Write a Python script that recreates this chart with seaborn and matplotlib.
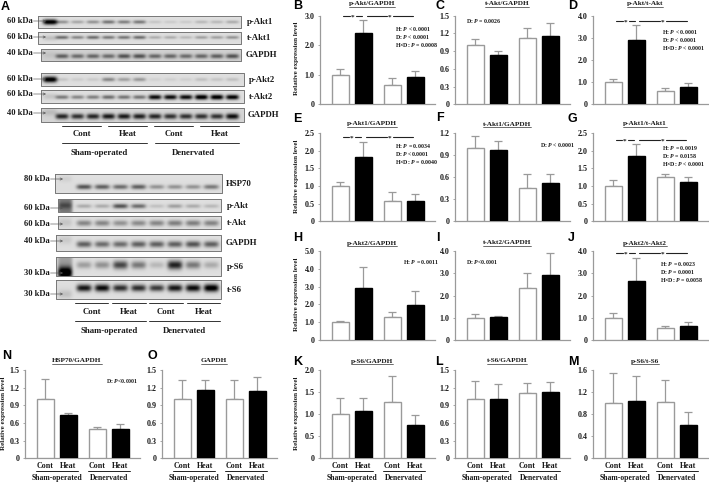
import numpy as np
import pandas as pd
import matplotlib
matplotlib.use('Agg')
import matplotlib.pyplot as plt
import seaborn as sns

sns.set_theme(style='white')
plt.rcParams['font.family'] = ['Liberation Serif', 'DejaVu Serif']
plt.rcParams['font.weight'] = 'bold'
plt.rcParams['mathtext.fontset'] = 'custom'
plt.rcParams['mathtext.rm'] = 'Liberation Serif:bold'
plt.rcParams['mathtext.it'] = 'Liberation Serif:italic:bold'
plt.rcParams['mathtext.bf'] = 'Liberation Serif:bold'

# Bar data: mean and top of the error bar, order Sham Cont, Sham Heat, Den Cont, Den Heat
groups = ['Cont', 'Heat', 'Cont', 'Heat']
b_vals = [1.0, 2.4, 0.66, 0.93]
b_tops = [1.2, 2.85, 0.88, 1.14]
c_vals = [1.0, 0.83, 1.12, 1.16]
c_tops = [1.1, 0.9, 1.29, 1.37]
d_vals = [1.0, 2.9, 0.6, 0.8]
d_tops = [1.12, 3.57, 0.73, 0.94]
e_vals = [1.0, 1.83, 0.57, 0.58]
e_tops = [1.12, 2.25, 0.83, 0.77]
f_vals = [1.0, 0.97, 0.45, 0.52]
f_tops = [1.16, 1.09, 0.64, 0.64]
g_vals = [1.0, 1.85, 1.25, 1.1]
g_tops = [1.16, 2.17, 1.35, 1.26]
h_vals = [1.0, 2.93, 1.27, 1.95]
h_tops = [1.08, 4.1, 1.6, 2.75]
i_vals = [1.0, 1.05, 2.35, 2.94]
i_tops = [1.18, 1.09, 3.0, 3.94]
j_vals = [1.0, 2.67, 0.53, 0.62]
j_tops = [1.23, 3.68, 0.65, 0.82]
k_vals = [1.0, 1.07, 1.27, 0.75]
k_tops = [1.36, 1.37, 1.87, 0.98]
l_vals = [1.0, 1.01, 1.1, 1.13]
l_tops = [1.31, 1.26, 1.28, 1.29]
m_vals = [1.0, 1.04, 1.01, 0.61]
m_tops = [1.54, 1.49, 1.41, 0.83]
n_vals = [1.0, 0.73, 0.5, 0.49]
n_tops = [1.35, 0.77, 0.54, 0.59]
o_vals = [1.0, 1.15, 1.01, 1.14]
o_tops = [1.33, 1.33, 1.32, 1.38]

ticks_30 = [0, 1.0, 2.0, 3.0]
ticks_40 = [0, 1.0, 2.0, 3.0, 4.0]
ticks_50 = [0, 1.0, 2.0, 3.0, 4.0, 5.0]
ticks_25 = [0, 0.5, 1.0, 1.5, 2.0, 2.5]
ticks_20 = [0, 0.5, 1.0, 1.5, 2.0]
ticks_15 = [0, 0.3, 0.6, 0.9, 1.2, 1.5]
ticks_12 = [0, 0.3, 0.6, 0.9, 1.2]
ticks_16 = [0, 0.4, 0.8, 1.2, 1.6]

# Blot band strengths, first number is the marker lane
p_akt1 = [0.95, 0.3, 0.22, 0.3, 0.42, 0.38, 0.4, 0.1, 0.08, 0.08, 0.15, 0.15, 0.2]
t_akt1 = [0.12, 0.45, 0.35, 0.45, 0.4, 0.42, 0.45, 0.2, 0.2, 0.15, 0.25, 0.25, 0.3]
gapdh1 = [0.05, 0.45, 0.4, 0.42, 0.4, 0.5, 0.5, 0.42, 0.42, 0.4, 0.42, 0.45, 0.5]
p_akt2 = [0.95, 0.1, 0.07, 0.08, 0.35, 0.25, 0.28, 0.05, 0.06, 0.06, 0.12, 0.1, 0.12]
t_akt2 = [0.1, 0.4, 0.35, 0.38, 0.45, 0.42, 0.42, 0.85, 0.85, 0.85, 0.95, 0.95, 0.9]
gapdh2 = [0.1, 0.7, 0.65, 0.7, 0.75, 0.75, 0.72, 0.7, 0.65, 0.65, 0.65, 0.65, 0.8]
hsp70 = [0.06, 0.55, 0.5, 0.45, 0.5, 0.3, 0.3, 0.3, 0.4]
p_akt = [0.2, 0.2, 0.2, 0.55, 0.45, 0.12, 0.25, 0.2, 0.15]
t_akt = [0.1, 0.35, 0.35, 0.3, 0.33, 0.35, 0.38, 0.38, 0.36]
gapdh3 = [0.08, 0.5, 0.45, 0.45, 0.5, 0.5, 0.5, 0.55, 0.5]
p_s6 = [0.85, 0.25, 0.3, 0.6, 0.4, 0.15, 0.75, 0.4, 0.2]
t_s6 = [0.12, 0.8, 0.85, 0.7, 0.7, 0.65, 0.8, 0.85, 0.95]

fig = plt.figure(figsize=(7.09, 4.82), dpi=100)
fig.patch.set_facecolor('white')

# Whole-figure axes in pixel units, for blots and loose text
page = fig.add_axes([0, 0, 1, 1], zorder=5)
page.patch.set_alpha(0)
page.axis('off')
page.set_xlim(0, 709)
page.set_ylim(482, 0)
page.set_autoscale_on(False)

GREY = '#9a9a9a'
POS = [0, 1, 2.25, 3.25]
TXT = '#1a1a1a'


def draw_panel(left, top, vals, tops, ymax, ticks, title, title_y, label_x=None, bottom=False):
    height = 88.6
    ax = fig.add_axes([left / 709, 1 - (top + height) / 482, 115 / 709, height / 482])
    df = pd.DataFrame({'pos': POS, 'value': vals, 'group': groups})
    sns.barplot(data=df, x='pos', y='value', hue='group', palette={'Cont': 'white', 'Heat': 'black'},
                native_scale=True, dodge=False, width=0.74, legend=False, errorbar=None, ax=ax,
                edgecolor=GREY, linewidth=1.0, zorder=3)
    for bar in ax.patches:
        if bar.get_facecolor()[0] < 0.5:
            bar.set_edgecolor('black')
    yerr = [np.zeros(4), np.array(tops) - np.array(vals)]
    ax.errorbar(POS, vals, yerr=yerr, fmt='none', ecolor=GREY, elinewidth=0.9, capsize=2.9,
                capthick=0.9, zorder=2)
    ax.set_xlim(-0.89, 4.11)
    ax.set_ylim(0, ymax)
    ax.set_yticks(ticks)
    ax.set_yticklabels(['0' if t == 0 else f'{t:.1f}' for t in ticks], fontsize=5.8, color=TXT, fontweight='bold')
    ax.tick_params(axis='y', length=1.5, width=0.6, color=GREY, pad=2.5, left=True)
    ax.set_xlabel('')
    ax.set_ylabel('')
    sns.despine(ax=ax)
    for side in ['left', 'bottom']:
        ax.spines[side].set_color(GREY)
        ax.spines[side].set_linewidth(0.9)
    ax.patch.set_alpha(0)

    if bottom:
        ax.set_xticks(POS)
        ax.set_xticklabels(groups, fontsize=5.8, color=TXT, fontweight='bold')
        ax.tick_params(axis='x', length=0, pad=2.5)
        trans = ax.get_xaxis_transform()
        for a, b in [(0, 1), (2, 3)]:
            ax.plot([POS[a] - 0.42, POS[b] + 0.42], [-0.145, -0.145], color='#222222', lw=0.7,
                    transform=trans, clip_on=False)
        ax.text((POS[0] + POS[1]) / 2, -0.222, 'Sham-operated', transform=trans, ha='center', va='center',
                fontsize=5.6, color=TXT)
        ax.text((POS[2] + POS[3]) / 2, -0.222, 'Denervated', transform=trans, ha='center', va='center',
                fontsize=5.6, color=TXT)
    else:
        ax.set_xticks([])

    # title with underline
    t = page.text(left + 52, title_y, title, ha='center', va='center', fontsize=5.2, color=TXT)
    bbox = t.get_window_extent(fig.canvas.get_renderer())
    page.plot([bbox.x0, bbox.x1], [title_y + 3, title_y + 3], color='#333333', lw=0.5)
    if label_x is not None:
        page.text(label_x, top + 43, 'Relative expression level', rotation=90, ha='center', va='center',
                  fontsize=5.0, color=TXT)
    return ax


def stats(x, y, lines, gap=8.0):
    for n, line in enumerate(lines):
        page.text(x, y + n * gap, line, fontsize=4.2, ha='left', va='center', color=TXT)


def signif(x0, x1, x2, x3, y):
    # two lines with a star in the middle of each
    for a, b in [(x0, x1), (x2, x3)]:
        mid = (a + b) / 2
        page.plot([a, mid - 3], [y, y], color='#222222', lw=0.8)
        page.plot([mid + 3, b], [y, y], color='#222222', lw=0.8)
        page.text(mid, y + 0.8, '*', fontsize=5.2, ha='center', va='center', color=TXT)


def draw_blot(box, lanes, first, pitch, name, kda, kda_y, name_x, kda_x, arrow, band_w=6.5, band_h=2.0,
              band_y=0.5, bg=0.9, marker_y=0.5, marker_fill=0.0):
    x0, x1, y0, y1 = box
    xs = np.linspace(x0, x1, int((x1 - x0) * 4))
    ys = np.linspace(y0, y1, int((y1 - y0) * 4))
    xx, yy = np.meshgrid(xs, ys)
    img = np.full(xx.shape, bg) - 0.03 * np.exp(-((yy - (y0 + (y1 - y0) * band_y)) / (y1 - y0)) ** 2)
    cy = y0 + (y1 - y0) * band_y
    marker_x = first[0]
    if marker_fill > 0:
        img -= marker_fill * np.exp(-((xx - marker_x) / 7.5) ** 6)
    my = y0 + (y1 - y0) * marker_y
    img -= lanes[0] * np.exp(-((xx - marker_x) / 7.0) ** 4) * np.exp(-((yy - my) / (band_h * 1.5)) ** 2)
    for n, s in enumerate(lanes[1:]):
        cx = first[1] + n * pitch
        img -= s * np.exp(-((xx - cx) / band_w) ** 4) * np.exp(-((yy - cy) / (band_h * (0.8 + 0.5 * s))) ** 2)
    page.imshow(np.clip(img, 0, 1), extent=(x0, x1, y1, y0), cmap='gray', vmin=0, vmax=1, aspect='auto',
                interpolation='bilinear')
    page.plot([x0, x1, x1, x0, x0], [y0, y0, y1, y1, y0], color='#777777', lw=0.7)
    page.text(name_x, (y0 + y1) / 2 + 0.3, name, fontsize=6.3, va='center', ha='left', color=TXT)
    page.text(kda_x, kda_y, kda, fontsize=6.1, va='center', ha='right', color=TXT)
    page.annotate('', xy=(arrow, kda_y), xytext=(kda_x + 0.5, kda_y),
                  arrowprops=dict(arrowstyle='->', lw=0.45, color='#555555', mutation_scale=4,
                                  shrinkA=0, shrinkB=0))


# Blots, upper block
f1 = (50, 62)
draw_blot((38, 241, 16, 28), p_akt1, f1, 15.5, 'p-Akt1', '60 kDa', 21, 247, 33, 46, band_y=0.5, band_h=1.8)
draw_blot((38, 241, 32, 44), t_akt1, f1, 15.5, 't-Akt1', '60 kDa', 37, 247, 33, 46, band_y=0.45, band_h=1.7)
draw_blot((41, 241, 49, 61), gapdh1, f1, 15.5, 'GAPDH', '40 kDa', 53, 246, 33, 46, band_y=0.6, band_h=2.2, bg=0.84)
draw_blot((41, 244, 73, 86), p_akt2, f1, 15.5, 'p-Akt2', '60 kDa', 79, 249, 33, 46, band_y=0.5, band_h=2.0, marker_y=0.5)
draw_blot((41, 244, 90, 103), t_akt2, f1, 15.5, 't-Akt2', '60 kDa', 94, 249, 33, 46, band_y=0.55, band_h=2.0)
draw_blot((41, 244, 108, 122), gapdh2, f1, 15.5, 'GAPDH', '40 kDa', 113, 248, 33, 46, band_y=0.6, band_h=2.4, bg=0.86,
          marker_y=0.3)

# Blots, lower block
f2 = (65, 84)
draw_blot((55, 222, 174, 193), hsp70, f2, 18.2, 'HSP70', '80 kDa', 179, 226, 50, 63, band_w=7.5, band_y=0.68, band_h=2.3,
          marker_y=0.25)
draw_blot((58, 221, 199, 212), p_akt, f2, 18.2, 'p-Akt', '60 kDa', 208, 227, 50, 63, band_w=7.5, band_y=0.55, band_h=2.2,
          marker_fill=0.4)
draw_blot((58, 221, 216, 229), t_akt, f2, 18.2, 't-Akt', '60 kDa', 224, 227, 50, 63, band_w=7.5, band_y=0.55, band_h=3.0)
draw_blot((56, 221, 235, 251), gapdh3, f2, 18.2, 'GAPDH', '40 kDa', 241, 226, 50, 63, band_w=7.5, band_y=0.58, band_h=3.0,
          marker_y=0.3)
draw_blot((56, 221, 257, 276), p_s6, f2, 18.2, 'p-S6', '30 kDa', 273, 227, 50, 63, band_w=7.5, band_y=0.42, band_h=3.8,
          marker_y=0.82, marker_fill=0.25)
draw_blot((56, 221, 280, 299), t_s6, f2, 18.2, 't-S6', '30 kDa', 294, 227, 50, 63, band_w=7.5, band_y=0.42, band_h=3.0,
          marker_y=0.75)


# Group lines under the blots
def blot_groups(spans, y1, y2, y3, wide, y4, wide_labels):
    for a, b, label in spans:
        page.plot([a, b], [y1, y1], color='#333333', lw=0.7)
        page.text((a + b) / 2, y2, label, fontsize=6.3, ha='center', va='center', color=TXT)
    for (a, b), label, cx in zip(wide, ['Sham-operated', 'Denervated'], wide_labels):
        page.plot([a, b], [y3, y3], color='#333333', lw=0.7)
        page.text(cx, y4, label, fontsize=6.3, ha='center', va='center', color=TXT)


blot_groups([(62, 101, 'Cont'), (108, 147, 'Heat'), (154, 193, 'Cont'), (200, 239, 'Heat')],
            126, 134, 143, [(62, 147), (155, 239)], 153, [99, 193])
blot_groups([(75, 108, 'Cont'), (112, 146, 'Heat'), (149, 183, 'Cont'), (187, 220, 'Heat')],
            303, 312, 321, [(75, 146), (149, 220)], 331, [109, 184])

# Bar panels
row1, row2, row3, row4 = 15.7, 132.8, 251.3, 369.8
col1, col2, col3 = 320, 455, 593
lab_x = 296.5

draw_panel(col1, row1, b_vals, b_tops, 3.0, ticks_30, 'p-Akt/GAPDH', 3.5, label_x=lab_x)
draw_panel(col2, row1, c_vals, c_tops, 1.5, ticks_15, 't-Akt/GAPDH', 3.5)
draw_panel(col3, row1, d_vals, d_tops, 4.0, ticks_40, 'p-Akt/t-Akt', 3.5)
draw_panel(col1, row2, e_vals, e_tops, 2.5, ticks_25, 'p-Akt1/GAPDH', 124, label_x=lab_x)
draw_panel(col2, row2, f_vals, f_tops, 1.2, ticks_12, 't-Akt1/GAPDH', 124)
draw_panel(col3, row2, g_vals, g_tops, 2.5, ticks_25, 'p-Akt1/t-Akt1', 124)
draw_panel(col1, row3, h_vals, h_tops, 5.0, ticks_50, 'p-Akt2/GAPDH', 243, label_x=lab_x)
draw_panel(col2, row3, i_vals, i_tops, 4.0, ticks_40, 't-Akt2/GAPDH', 243)
draw_panel(col3, row3, j_vals, j_tops, 4.0, ticks_40, 'p-Akt2/t-Akt2', 243)
draw_panel(col1, row4, k_vals, k_tops, 2.0, ticks_20, 'p-S6/GAPDH', 361, label_x=lab_x, bottom=True)
draw_panel(col2, row4, l_vals, l_tops, 1.5, ticks_15, 't-S6/GAPDH', 361, bottom=True)
draw_panel(col3, row4, m_vals, m_tops, 1.6, ticks_16, 'p-S6/t-S6', 361, bottom=True)
draw_panel(25, row4, n_vals, n_tops, 1.5, ticks_15, 'HSP70/GAPDH', 361, label_x=4, bottom=True)
draw_panel(162, row4, o_vals, o_tops, 1.5, ticks_15, 'GAPDH', 361, bottom=True)

# P value notes
stats(395, 29, [r'H: $\mathit{P}$ < 0.0001', r'D: $\mathit{P}$ < 0.0001', r'H×D: $\mathit{P}$ = 0.0008'])
stats(466, 21, [r'D: $\mathit{P}$ = 0.0026'])
stats(662, 32, [r'H: $\mathit{P}$ < 0.0001', r'D: $\mathit{P}$ < 0.0001', r'H×D: $\mathit{P}$ < 0.0001'])
stats(395, 146, [r'H: $\mathit{P}$ = 0.0034', r'D: $\mathit{P}$ <0.0001', r'H×D: $\mathit{P}$ = 0.0040'])
stats(540, 145, [r'D: $\mathit{P}$ < 0.0001'])
stats(662, 148, [r'H: $\mathit{P}$ = 0.0019', r'D: $\mathit{P}$ = 0.0158', r'H×D: $\mathit{P}$ < 0.0001'])
stats(403, 262, [r'H: $\mathit{P}$ = 0.0011'])
stats(466, 262, [r'D: $\mathit{P}$<0.0001'])
stats(660, 264, [r'H: $\mathit{P}$ = 0.0023', r'D: $\mathit{P}$ = 0.0001', r'H×D: $\mathit{P}$ = 0.0058'])
stats(106, 381, [r'D: $\mathit{P}$<0.0001'])

# Significance lines
signif(343, 362, 367, 413, 16)
signif(616, 635, 639, 687, 21)
signif(343, 361, 366, 413, 137)
signif(616, 634, 639, 686, 140)
signif(616, 635, 639, 687, 253)

# Panel letters
letters = {'A': (1, 7), 'B': (293, 6), 'C': (435, 6), 'D': (568, 6), 'E': (293, 119), 'F': (436, 118),
           'G': (568, 119), 'H': (293, 238), 'I': (436, 238), 'J': (568, 238), 'K': (293, 362),
           'L': (435, 362), 'M': (568, 362), 'N': (2, 356), 'O': (148, 356)}
for letter, (lx, ly) in letters.items():
    page.text(lx, ly, letter, fontsize=9, fontweight='bold', family='Liberation Sans', ha='left', va='center',
              color='black')

fig.savefig('out.png', dpi=100)
